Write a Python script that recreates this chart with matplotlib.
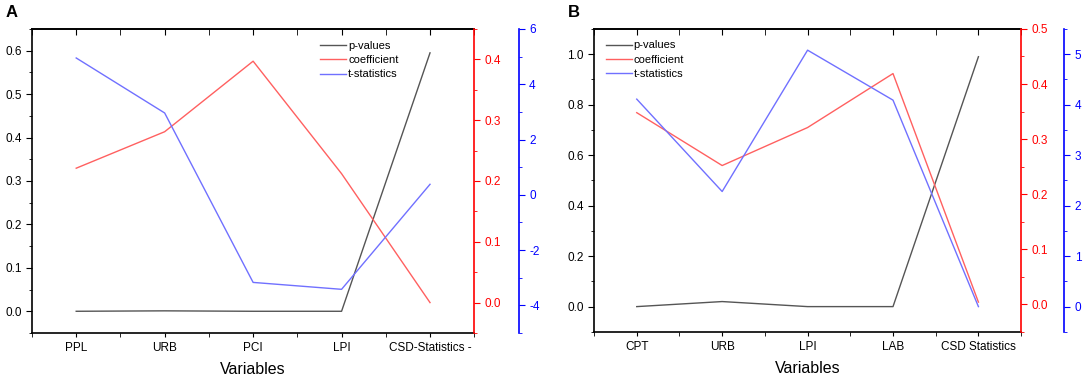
import matplotlib.pyplot as plt
import numpy as np
from matplotlib.ticker import MultipleLocator

plt.rcParams['font.family'] = ['Liberation Sans', 'DejaVu Sans']
plt.rcParams['axes.unicode_minus'] = False

# Panel A data
cats_a = ['PPL', 'URB', 'PCI', 'LPI', 'CSD-Statistics -']
pval_a = [0.0, 0.001, 0.0, 0.0, 0.595]
coef_a = [0.221, 0.281, 0.397, 0.212, 0.0]
tstat_a = [4.95, 2.96, -3.17, -3.42, 0.38]

# Panel B data
cats_b = ['CPT', 'URB', 'LPI', 'LAB', 'CSD Statistics']
pval_b = [0.0, 0.02, 0.0, 0.0, 0.99]
coef_b = [0.348, 0.252, 0.321, 0.419, 0.004]
tstat_b = [4.11, 2.28, 5.08, 4.09, 0.0]

GRAY = '#555555'
RED = '#ff6060'
BLUE = '#7070ff'
FS = 8.5


def panel(rect, letter, cats, pv, cf, ts, ylim1, ylim2, ylim3,
          major1, minor1, major2, minor2, major3, minor3, offset, legpos):
    ax = fig.add_axes(rect)
    x = np.arange(len(cats))
    l1, = ax.plot(x, pv, color=GRAY, lw=1.0, label='p-values')
    ax.set_xlim(-0.5, len(cats) - 0.5)
    ax.set_ylim(*ylim1)
    ax.set_xticks(x)
    ax.set_xticklabels(cats, fontsize=FS)
    ax.xaxis.set_minor_locator(MultipleLocator(0.5))
    ax.yaxis.set_major_locator(MultipleLocator(major1))
    ax.yaxis.set_minor_locator(MultipleLocator(minor1))
    ax.yaxis.set_major_formatter('{x:.1f}')
    ax.tick_params(axis='y', labelsize=FS, direction='out', length=4)
    ax.tick_params(axis='y', which='minor', direction='out', length=2.5)
    ax.tick_params(axis='x', which='both', direction='out', length=3)
    ax.set_xlabel('Variables', fontsize=11.5, labelpad=6)
    ax.spines['right'].set_visible(False)
    for s in ['left', 'bottom', 'top']:
        ax.spines[s].set_linewidth(1.2)

    # top ticks pointing inward
    sec = ax.secondary_xaxis('top')
    sec.set_xticks(x)
    sec.xaxis.set_minor_locator(MultipleLocator(0.5))
    sec.tick_params(which='both', direction='in', length=4, labeltop=False)
    sec.spines['top'].set_linewidth(1.2)

    ax2 = ax.twinx()
    l2, = ax2.plot(x, cf, color=RED, lw=1.0, label='coefficient')
    ax2.set_ylim(*ylim2)
    ax2.yaxis.set_major_locator(MultipleLocator(major2))
    ax2.yaxis.set_minor_locator(MultipleLocator(minor2))
    ax2.yaxis.set_major_formatter('{x:.1f}')
    ax2.spines['right'].set_color('red')
    ax2.spines['right'].set_linewidth(1.2)
    for s in ['left', 'top', 'bottom']:
        ax2.spines[s].set_visible(False)
    ax2.tick_params(axis='y', colors='red', labelsize=FS, length=4)
    ax2.tick_params(axis='y', which='minor', colors='red', length=2.5)

    ax3 = ax.twinx()
    l3, = ax3.plot(x, ts, color=BLUE, lw=1.0, label='t-statistics')
    ax3.set_ylim(*ylim3)
    ax3.spines['right'].set_position(('outward', offset))
    ax3.spines['right'].set_color('blue')
    ax3.spines['right'].set_linewidth(1.2)
    for s in ['left', 'top', 'bottom']:
        ax3.spines[s].set_visible(False)
    ax3.yaxis.set_major_locator(MultipleLocator(major3))
    ax3.yaxis.set_minor_locator(MultipleLocator(minor3))
    ax3.tick_params(axis='y', colors='blue', labelsize=FS, length=4)
    ax3.tick_params(axis='y', which='minor', colors='blue', length=2.5)

    ax.legend(handles=[l1, l2, l3], loc='upper left', bbox_to_anchor=legpos,
              frameon=False, fontsize=8, handlelength=2.3, handletextpad=0.2,
              labelspacing=0.4, borderaxespad=0, borderpad=0)
    fig.text(rect[0] - 0.024, 0.968, letter, fontsize=12, fontweight='bold',
             va='center', ha='left')
    return ax


fig = plt.figure(figsize=(10.84, 3.81), dpi=100)

panel([0.0295, 0.126, 0.408, 0.798], 'A', cats_a, pval_a, coef_a, tstat_a,
      (-0.05, 0.65), (-0.05, 0.45), (-5, 6),
      0.1, 0.05, 0.1, 0.05, 2, 1, 32, (0.652, 0.962))

panel([0.548, 0.129, 0.394, 0.795], 'B', cats_b, pval_b, coef_b, tstat_b,
      (-0.1, 1.1), (-0.05, 0.5), (-0.5, 5.5),
      0.2, 0.1, 0.1, 0.05, 1, 0.5, 31, (0.028, 0.962))

fig.savefig('out.png', dpi=100)
